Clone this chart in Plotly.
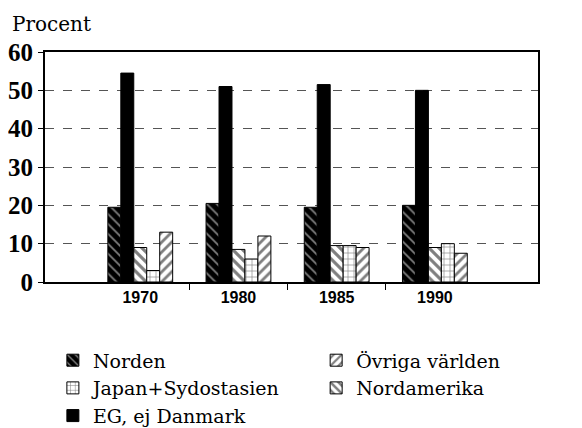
import plotly.graph_objects as go

years = ["1970", "1980", "1985", "1990"]
norden = [19.5, 20.5, 19.5, 20.0]
eg = [54.5, 51.0, 51.5, 50.0]
nordamerika = [9.0, 8.5, 9.5, 9.0]
japan = [3.0, 6.0, 9.5, 10.0]
ovriga = [13.0, 12.0, 9.0, 7.5]
y_ticks = [0, 10, 20, 30, 40, 50, 60]

xpos = list(range(len(years)))
serif = "Liberation Serif, Times New Roman, serif"
wide_serif = "DejaVu Serif, serif"

series = [
    ("Norden", norden, dict(shape="\\", fgcolor="white", bgcolor="black", solidity=0.25, size=7), "black", 1, "legend"),
    ("EG, ej Danmark", eg, None, "black", 3, "legend"),
    ("Nordamerika", nordamerika, dict(shape="\\", fgcolor="black", bgcolor="white", solidity=0.45, size=7), "white", 2, "legend2"),
    ("Japan+Sydostasien", japan, dict(shape="+", fgcolor="black", bgcolor="white", solidity=0.2, size=6), "white", 2, "legend"),
    ("Övriga världen", ovriga, dict(shape="/", fgcolor="black", bgcolor="white", solidity=0.4, size=7), "white", 1, "legend2"),
]

fig = go.Figure()
for name, vals, pat, color, rank, leg in series:
    marker = dict(color=color, line=dict(color="black", width=1))
    if pat:
        marker["pattern"] = pat
    fig.add_trace(go.Bar(x=xpos, y=vals, name=name, marker=marker,
                         legendrank=rank, legend=leg))

legend_common = dict(orientation="v", y=-0.258, xanchor="left", yanchor="top",
                     font=dict(family=wide_serif, size=19, color="black"),
                     itemwidth=30, bgcolor="rgba(0,0,0,0)")

fig.update_layout(
    width=574, height=420,
    margin=dict(l=37, r=44, t=44, b=146, autoexpand=False),
    paper_bgcolor="white", plot_bgcolor="white",
    barmode="group", bargap=0.34, bargroupgap=0,
    showlegend=True,
    legend=dict(x=0.016, **legend_common),
    legend2=dict(x=0.55, **legend_common),
    annotations=[dict(text="Procent", xref="paper", yref="paper", x=-0.071, y=1.122,
                      xanchor="left", yanchor="middle", showarrow=False,
                      font=dict(family=wide_serif, size=20, color="black"))],
)
fig.update_xaxes(
    range=[-0.97, 4.05], tickvals=xpos, ticktext=years, ticks="",
    tickfont=dict(family="Liberation Sans, Arial, sans-serif", size=16, color="black", weight="bold"),
    showline=True, linecolor="black", linewidth=2, mirror=True, showgrid=False,
    minor=dict(tickvals=[0.5, 1.5, 2.5], ticks="outside", ticklen=6, tickcolor="black", showgrid=False),
    zeroline=False,
)
fig.update_yaxes(
    range=[0, 60], tickvals=y_ticks, ticks="outside", ticklen=5, tickcolor="black",
    tickfont=dict(family=serif, size=25, color="black", weight="bold"),
    showline=True, linecolor="black", linewidth=2, mirror=True,
    showgrid=True, gridcolor="#555555", griddash="dash", gridwidth=1, zeroline=False,
)
fig.write_html("out.html")
